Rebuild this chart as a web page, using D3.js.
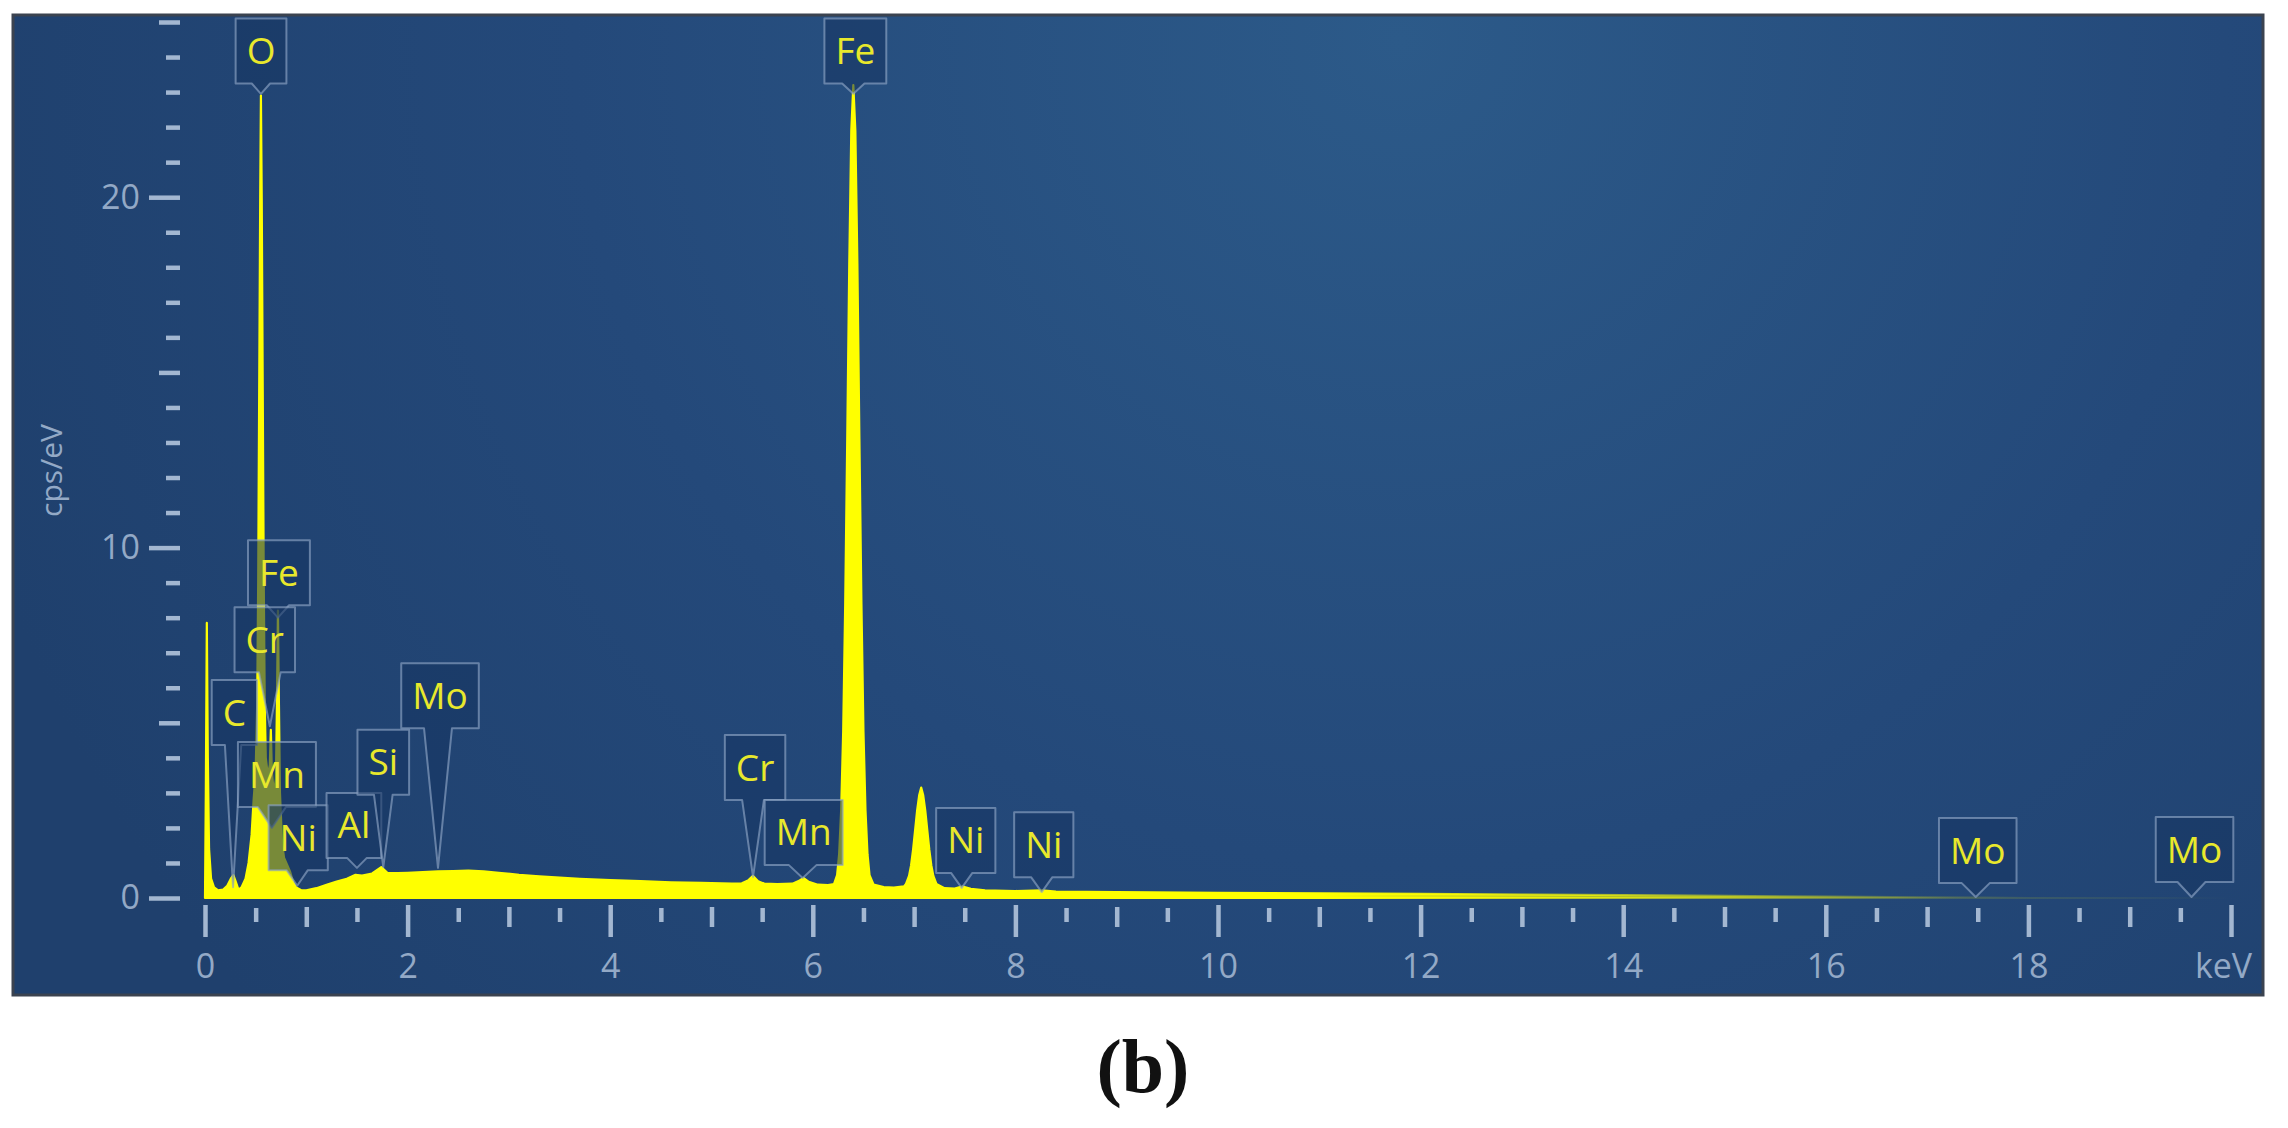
<!DOCTYPE html>
<html><head><meta charset="utf-8">
<script src="https://cdn.jsdelivr.net/npm/d3@7"></script>
<style>html,body{margin:0;padding:0;background:#fff;} svg{display:block}</style>
</head><body>
<svg id="chart" width="2288" height="1128"></svg>
<script>
// ---------- DATA ----------
const energyKeV = [0.000,0.008,0.018,0.028,0.040,0.060,0.090,0.130,0.180,0.220,0.255,0.280,0.305,0.330,0.360,0.400,0.430,0.460,0.480,0.500,0.515,0.525,0.535,0.545,0.552,0.560,0.570,0.580,0.590,0.600,0.620,0.640,0.650,0.660,0.680,0.700,0.710,0.720,0.730,0.740,0.760,0.780,0.810,0.840,0.870,0.900,0.950,1.000,1.100,1.200,1.300,1.400,1.486,1.550,1.650,1.740,1.800,1.900,2.000,2.150,2.300,2.450,2.600,2.750,2.900,3.100,3.300,3.500,3.700,4.000,4.300,4.600,4.900,5.200,5.300,5.360,5.410,5.460,5.520,5.650,5.800,5.870,5.910,5.960,6.050,6.150,6.210,6.240,6.260,6.280,6.300,6.320,6.340,6.360,6.380,6.400,6.420,6.440,6.460,6.480,6.500,6.520,6.540,6.560,6.600,6.700,6.800,6.900,6.920,6.950,6.970,6.990,7.010,7.030,7.050,7.070,7.090,7.110,7.130,7.150,7.170,7.190,7.220,7.300,7.400,7.480,7.560,7.700,8.000,8.260,8.400,9.000,10.000,11.000,12.000,13.000,14.000,15.000,16.000,17.000,17.500,18.000,20.000];
const countsCps = [0.00,3.00,7.85,4.00,1.40,0.55,0.30,0.22,0.24,0.35,0.55,0.65,0.45,0.24,0.30,0.55,1.00,1.80,2.80,3.60,5.50,9.00,14.50,20.00,22.90,20.00,14.50,9.00,5.50,4.00,3.50,3.80,4.80,3.60,3.00,3.40,5.50,8.20,5.50,3.00,1.60,1.15,0.95,0.75,0.45,0.30,0.22,0.22,0.28,0.38,0.47,0.55,0.66,0.64,0.70,0.88,0.72,0.71,0.72,0.74,0.76,0.77,0.78,0.76,0.72,0.66,0.62,0.58,0.55,0.51,0.48,0.45,0.43,0.41,0.42,0.50,0.63,0.48,0.41,0.40,0.41,0.50,0.57,0.46,0.38,0.37,0.40,0.65,1.25,2.50,4.75,8.40,13.10,18.10,21.90,23.20,21.90,18.10,13.10,8.40,4.75,2.50,1.25,0.65,0.38,0.31,0.30,0.33,0.40,0.63,0.93,1.38,1.94,2.50,2.93,3.15,2.93,2.50,1.94,1.38,0.93,0.63,0.40,0.28,0.27,0.33,0.26,0.22,0.20,0.22,0.18,0.17,0.15,0.13,0.12,0.10,0.08,0.06,0.04,0.02,0.01,0.00,0.00];

const xMajorTicks = [0,2,4,6,8,10,12,14,16,18,20];
const xMajorLabels = ["0","2","4","6","8","10","12","14","16","18","keV"];
const yLabelTicks = [0,10,20];
const yLabelTexts = ["0","10","20"];

// peak markers: element, line energy (keV), pointer tip (cps/eV), box centre (keV), box top (cps/eV)
const peakNames       = ["O","Fe","Fe","Cr","C","Mn","Ni","Al","Si","Mo","Cr","Mn","Ni","Ni","Mo","Mo"];
const peakEnergies    = [0.552,6.40,0.72,0.64,0.277,0.66,0.91,1.50,1.76,2.30,5.41,5.90,7.47,8.26,17.48,19.61];
const peakTipValues   = [22.95,22.95,8.0,4.9,0.31,2.0,0.35,0.86,0.88,0.86,0.60,0.57,0.29,0.17,0.03,0.03];
const boxCenterKeV    = [0.553,6.42,0.73,0.59,0.29,0.71,0.92,1.47,1.76,2.32,5.43,5.91,7.51,8.28,17.50,19.64];
const boxTopValues    = [25.1,25.1,10.21,8.3,6.22,4.45,2.65,3.0,4.8,6.7,4.65,2.8,2.57,2.45,2.28,2.31];

const yAxisTitle = "cps/eV";
const caption = "(b)";

// ---------- LAYOUT ----------
const svg = d3.select("#chart");
const panel = {x:13, y:15, w:2250, h:980};
const x = d3.scaleLinear().domain([0,20]).range([205,2231]);
const y = d3.scaleLinear().domain([0,25]).range([898,22]);

const defs = svg.append("defs");
const rg = defs.append("radialGradient").attr("id","bg").attr("gradientUnits","userSpaceOnUse")
  .attr("cx",1400).attr("cy",40).attr("r",1500);
rg.append("stop").attr("offset","0").attr("stop-color","#2c5a89");
rg.append("stop").attr("offset","0.55").attr("stop-color","#24497a");
rg.append("stop").attr("offset","1").attr("stop-color","#1f406d");

const fadeGrad = defs.append("linearGradient").attr("id","fade").attr("gradientUnits","userSpaceOnUse")
  .attr("x1",x(0)).attr("x2",x(20)).attr("y1",0).attr("y2",0);
fadeGrad.append("stop").attr("offset",(x(11)-x(0))/(x(20)-x(0))).attr("stop-color","#ffff00").attr("stop-opacity",1);
fadeGrad.append("stop").attr("offset",(x(17.3)-x(0))/(x(20)-x(0))).attr("stop-color","#ffff00").attr("stop-opacity",0.15);
fadeGrad.append("stop").attr("offset",1).attr("stop-color","#ffff00").attr("stop-opacity",0);

svg.append("rect").attr("x",panel.x).attr("y",panel.y).attr("width",panel.w).attr("height",panel.h)
  .attr("fill","url(#bg)").attr("stroke","#3b4350").attr("stroke-width",3);

// spectrum
const data = energyKeV.map((e,i)=>({e, v:countsCps[i]}));
svg.append("path").datum(data)
  .attr("d", d3.area().x(d=>x(d.e)).y0(y(0)).y1(d=>y(d.v)))
  .attr("fill","url(#fade)").attr("stroke","url(#fade)").attr("stroke-width",2.2).attr("stroke-linejoin","round");

// axes
const tickColor = "#a3b7d1";
const font = "'Open Sans', sans-serif";
function styleAxis(g){
  g.select(".domain").remove();
  g.selectAll(".tick line").attr("stroke",tickColor).attr("stroke-width",4.5);
  g.selectAll("text").attr("fill","#93a9c6").style("font-family",font).style("font-size","34px");
}
const xMinor = d3.range(0.5,20,1);
const xMid = d3.range(1,20,2);
svg.append("g").attr("transform","translate(0,908)")
  .call(d3.axisBottom(x).tickValues(xMinor).tickSize(14).tickFormat(""))
  .call(styleAxis);
svg.append("g").attr("transform","translate(0,907)")
  .call(d3.axisBottom(x).tickValues(xMid).tickSize(20).tickFormat(""))
  .call(styleAxis);
const xg = svg.append("g").attr("transform","translate(0,905)")
  .call(d3.axisBottom(x).tickValues(xMajorTicks).tickSize(32).tickPadding(17)
    .tickFormat((d,i)=>xMajorLabels[i]))
  .call(styleAxis);
xg.selectAll(".tick text").filter(d=>d===20).attr("dx",-8);

const yOnes = d3.range(1,26).filter(d=>d%5!==0);
const yFives = [5,15,25];
svg.append("g").attr("transform","translate(180,0)")
  .call(d3.axisLeft(y).tickValues(yOnes).tickSize(14).tickFormat(""))
  .call(styleAxis);
svg.append("g").attr("transform","translate(180,0)")
  .call(d3.axisLeft(y).tickValues(yFives).tickSize(21).tickFormat(""))
  .call(styleAxis);
svg.append("g").attr("transform","translate(180,0)")
  .call(d3.axisLeft(y).tickValues(yLabelTicks).tickSize(31).tickPadding(9)
    .tickFormat((d,i)=>yLabelTexts[i]))
  .call(styleAxis);

svg.append("text").attr("transform",`translate(62,${y(12.2)}) rotate(-90)`)
  .attr("text-anchor","middle").attr("fill","#93a9c6")
  .style("font-family",font).style("font-size","30px").text(yAxisTitle);

// peak labels
const boxH = 65;
const lab = svg.append("g");
peakNames.forEach((name,i)=>{
  const g = lab.append("g");
  const t = g.append("text").attr("text-anchor","middle")
    .attr("x",x(boxCenterKeV[i])).attr("y",y(boxTopValues[i])+boxH/2)
    .attr("dy","0.35em").attr("fill","#e8e82c")
    .style("font-family",font).style("font-size","37px").text(name);
  const tw = t.node().getComputedTextLength();
  const w = Math.max(42, tw+22);
  const L = x(boxCenterKeV[i]) - w/2, R = L + w, T = y(boxTopValues[i]), B = T + boxH;
  const tx = x(peakEnergies[i]), ty = y(peakTipValues[i]);
  const hw = Math.min(14, w*0.18);
  let b1 = Math.min(Math.max(tx-hw, L+3), R-3-2*hw);
  let b2 = b1 + 2*hw;
  const p = `M${L},${T}H${R}V${B}H${b2}L${tx},${ty}L${b1},${B}H${L}Z`;
  g.insert("path","text").attr("d",p)
    .attr("fill","#173563").attr("fill-opacity",0.58)
    .attr("stroke","#8ea4c4").attr("stroke-opacity",0.65).attr("stroke-width",2)
    .attr("stroke-linejoin","round");
});

// caption
svg.append("text").attr("x",1143).attr("y",1092).attr("text-anchor","middle")
  .style("font-family","'Liberation Serif', serif").style("font-weight","bold").style("font-size","76px")
  .attr("fill","#111").text(caption);
</script>
</body></html>
